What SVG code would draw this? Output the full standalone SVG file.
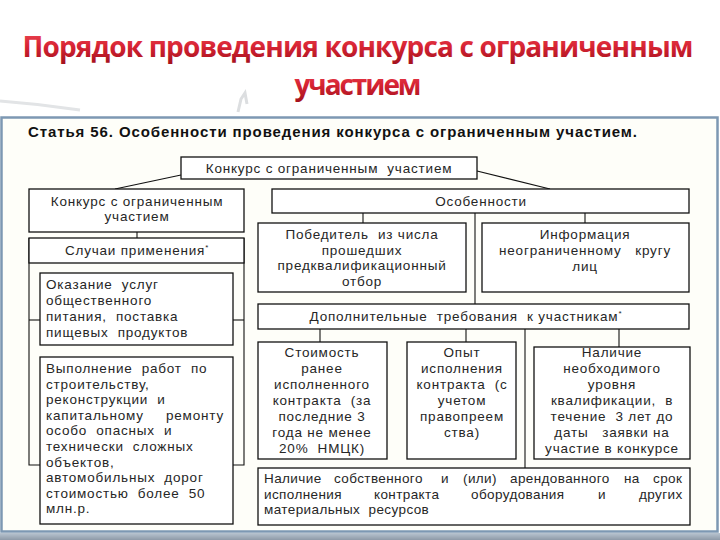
<svg xmlns="http://www.w3.org/2000/svg" width="720" height="540" viewBox="0 0 720 540">
<defs>
<linearGradient id="tg" x1="0" y1="0" x2="0" y2="1">
<stop offset="0" stop-color="#f0505c"/>
<stop offset="0.5" stop-color="#d82434"/>
<stop offset="1" stop-color="#a0101c"/>
</linearGradient>
<linearGradient id="band" x1="0" y1="0" x2="0" y2="1">
<stop offset="0" stop-color="#b8c4d0"/>
<stop offset="1" stop-color="#8e9aa8"/>
</linearGradient>
<style>
.title{font-family:"Open Sans","Liberation Sans",sans-serif;font-weight:bold;font-size:28px;fill:url(#tg);text-anchor:middle}
.hdr{font-family:"Liberation Sans",Arial,sans-serif;font-weight:bold;font-size:15px;fill:#111}
.box{fill:#fff;stroke:#111;stroke-width:1.3}
.t{font-family:"Liberation Sans",Arial,sans-serif;font-size:13.5px;fill:#262626;letter-spacing:0.8px;white-space:pre}
.tn{letter-spacing:0.4px}
.c{text-anchor:middle}
.sup{font-size:8px}
#connectors line,#connectors polyline{stroke:#111;stroke-width:1.1;fill:none}
</style>
</defs>
<rect width="720" height="540" fill="#ffffff"/>
<path d="M0,101 Q40,104 80,110" stroke="#e2e4e6" stroke-width="3" fill="none"/>
<path d="M238,112 L241,99 L245,93 L247,104" stroke="#dcdee0" stroke-width="3" fill="none"/>
<text class="title" x="358" y="57" textLength="671">Порядок проведения конкурса с ограниченным</text>
<text class="title" x="358" y="95" textLength="127">участием</text>
<rect x="1.5" y="117.5" width="716" height="414" fill="#fefef9" stroke="#7d98b3" stroke-width="2.5"/>
<rect x="0" y="533" width="720" height="7" fill="url(#band)"/>
<text class="hdr" x="28" y="137" textLength="609">Статья 56. Особенности проведения конкурса с ограниченным участием.</text>

<g id="connectors">
<line x1="181" y1="175" x2="115" y2="189"/>
<line x1="477" y1="171" x2="550" y2="189"/>
<line x1="137" y1="232" x2="137" y2="238"/>
<polyline points="29,238 29,465 40,465"/>
<polyline points="244,238 244,465 233,465"/>
<line x1="29" y1="320" x2="40" y2="320"/>
<line x1="233" y1="320" x2="244" y2="320"/>
<line x1="363" y1="213" x2="363" y2="223"/>
<line x1="585" y1="213" x2="585" y2="223"/>
<line x1="475" y1="213" x2="475" y2="304"/>
<line x1="320" y1="329" x2="320" y2="342"/>
<line x1="466" y1="329" x2="466" y2="342"/>
<line x1="619" y1="329" x2="619" y2="347"/>
<line x1="525" y1="329" x2="525" y2="468"/>
</g>

<g id="n-top">
<rect class="box" x="181" y="157" width="296" height="22"/>
<text class="t c" x="329" y="173" xml:space="preserve">Конкурс с ограниченным  участием</text>
</g>
<g id="n-left">
<rect class="box" x="29" y="189" width="215" height="43"/>
<text class="t c" x="137" y="206">Конкурс с ограниченным</text>
<text class="t c" x="137" y="221">участием</text>
</g>
<g id="n-features">
<rect class="box" x="272" y="189" width="417" height="24"/>
<text class="t c" x="481" y="206">Особенности</text>
</g>
<g id="n-cases">
<rect class="box" x="29" y="238" width="215" height="25"/>
<text class="t c" x="137" y="255">Случаи применения<tspan class="sup" dy="-5">*</tspan></text>
</g>
<g id="n-food">
<rect class="box" x="40" y="273" width="193" height="72"/>
<text class="t" x="46" y="289" xml:space="preserve">Оказание  услуг</text>
<text class="t" x="46" y="305">общественного</text>
<text class="t" x="46" y="321" xml:space="preserve">питания,  поставка</text>
<text class="t" x="46" y="337" xml:space="preserve">пищевых  продуктов</text>
</g>
<g id="n-build">
<rect class="box" x="40" y="357" width="193" height="167"/>
<text class="t" x="46" y="373" xml:space="preserve">Выполнение  работ  по</text>
<text class="t" x="46" y="388.6">строительству,</text>
<text class="t" x="46" y="404.2" xml:space="preserve">реконструкции  и</text>
<text class="t" x="46" y="419.8">капитальному<tspan x="166">ремонту</tspan></text>
<text class="t" x="46" y="435.4" xml:space="preserve">особо  опасных  и</text>
<text class="t" x="46" y="451" xml:space="preserve">технически  сложных</text>
<text class="t" x="46" y="466.6">объектов,</text>
<text class="t" x="46" y="482.2" xml:space="preserve">автомобильных  дорог</text>
<text class="t" x="46" y="497.8" xml:space="preserve">стоимостью  более  50</text>
<text class="t" x="46" y="513.4">млн.р.</text>
</g>
<g id="n-winner">
<rect class="box" x="258" y="223" width="208" height="69"/>
<text class="t c" x="362" y="239" xml:space="preserve">Победитель  из числа</text>
<text class="t c" x="362" y="254.5">прошедших</text>
<text class="t c" x="362" y="270">предквалификационный</text>
<text class="t c" x="362" y="285.5">отбор</text>
</g>
<g id="n-info">
<rect class="box" x="482" y="223" width="207" height="69"/>
<text class="t c" x="585" y="239">Информация</text>
<text class="t c" x="585" y="255" xml:space="preserve">неограниченному   кругу</text>
<text class="t c" x="585" y="271">лиц</text>
</g>
<g id="n-req">
<rect class="box" x="258" y="304" width="431" height="25"/>
<text class="t c" x="466" y="321" xml:space="preserve">Дополнительные  требования  к участникам<tspan class="sup" dy="-5">*</tspan></text>
</g>
<g id="n-cost">
<rect class="box" x="258" y="342" width="129" height="117"/>
<text class="t c" x="322" y="357">Стоимость</text>
<text class="t c" x="322" y="373">ранее</text>
<text class="t c" x="322" y="389">исполненного</text>
<text class="t c" x="322" y="405" xml:space="preserve">контракта  (за</text>
<text class="t c" x="322" y="421">последние 3</text>
<text class="t c" x="322" y="437">года не менее</text>
<text class="t c" x="322" y="453" xml:space="preserve">20%  НМЦК)</text>
</g>
<g id="n-exp">
<rect class="box" x="407" y="342" width="109" height="117"/>
<text class="t c" x="462" y="357">Опыт</text>
<text class="t c" x="462" y="373">исполнения</text>
<text class="t c" x="462" y="389" xml:space="preserve">контракта  (с</text>
<text class="t c" x="462" y="405">учетом</text>
<text class="t c" x="462" y="421">правопреем</text>
<text class="t c" x="462" y="437">ства)</text>
</g>
<g id="n-qual">
<rect class="box" x="534" y="347" width="156" height="112"/>
<text class="t c" x="612" y="357">Наличие</text>
<text class="t c" x="612" y="373">необходимого</text>
<text class="t c" x="612" y="389">уровня</text>
<text class="t c" x="612" y="405" xml:space="preserve">квалификации,  в</text>
<text class="t c" x="612" y="421" xml:space="preserve">течение  3 лет до</text>
<text class="t c" x="612" y="437" xml:space="preserve">даты   заявки на</text>
<text class="t c" x="612" y="453">участие в конкурсе</text>
</g>
<g id="n-equip">
<rect class="box" x="258" y="468" width="432" height="57"/>
<text class="t tn" x="264" y="483">Наличие<tspan x="334">собственного</tspan><tspan x="441">и</tspan><tspan x="463">(или)</tspan><tspan x="510">арендованного</tspan><tspan x="624">на</tspan><tspan x="653">срок</tspan></text>
<text class="t tn" x="264" y="498.5">исполнения<tspan x="374">контракта</tspan><tspan x="471">оборудования</tspan><tspan x="598">и</tspan><tspan x="639">других</tspan></text>
<text class="t tn" x="264" y="514" xml:space="preserve">материальных  ресурсов</text>
</g>
</svg>
